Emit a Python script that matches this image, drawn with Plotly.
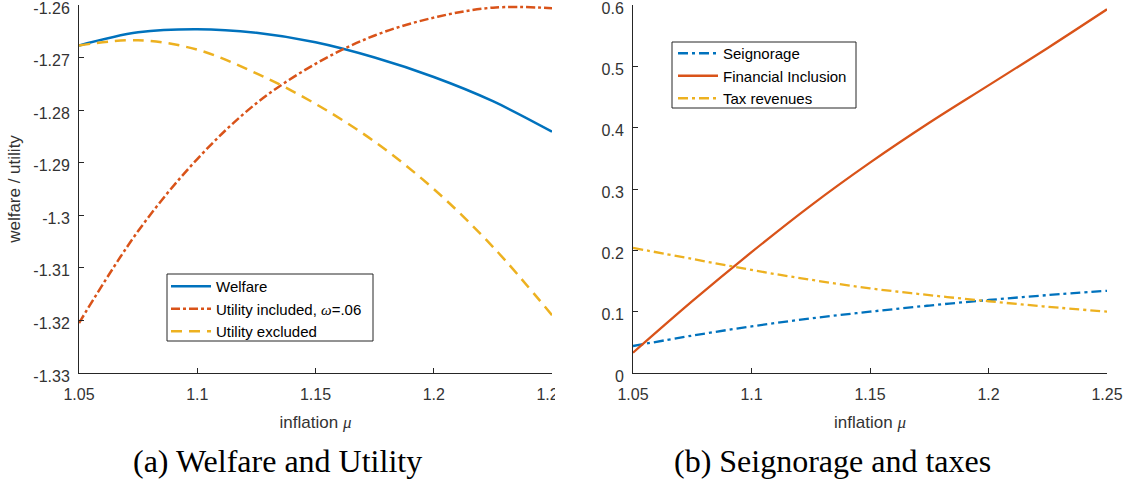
import plotly.graph_objects as go

# ---------------- data ----------------
mu = [1.05, 1.075, 1.1, 1.125, 1.15, 1.175, 1.2, 1.225, 1.25]

welfare = [-1.2677, -1.2652, -1.2646, -1.2653, -1.2671, -1.2700, -1.2737, -1.2783, -1.2841]
utility_included = [-1.3205, -1.3030, -1.2893, -1.2787, -1.2712, -1.2658, -1.2624, -1.2605, -1.2606]
utility_excluded = [-1.2677, -1.2667, -1.2685, -1.2730, -1.2788, -1.2860, -1.2950, -1.3060, -1.3190]

seignorage = [0.044, 0.061, 0.076, 0.089, 0.100, 0.110, 0.119, 0.127, 0.134]
financial_inclusion = [0.033, 0.117, 0.197, 0.273, 0.343, 0.408, 0.469, 0.530, 0.593]
tax_revenues = [0.204, 0.186, 0.168, 0.152, 0.138, 0.127, 0.117, 0.108, 0.100]

x_tickvals = [1.05, 1.1, 1.15, 1.2, 1.25]
x_ticktext = ["1.05", "1.1", "1.15", "1.2", "1.25"]
yl_tickvals = [-1.33, -1.32, -1.31, -1.30, -1.29, -1.28, -1.27, -1.26]
yl_ticktext = ["-1.33", "-1.32", "-1.31", "-1.3", "-1.29", "-1.28", "-1.27", "-1.26"]
yr_tickvals = [0, 0.1, 0.2, 0.3, 0.4, 0.5, 0.6]
yr_ticktext = ["0", "0.1", "0.2", "0.3", "0.4", "0.5", "0.6"]

# ---------------- style ----------------
W, H = 1136, 481
BLUE, ORANGE, YELLOW = "#0072BD", "#D95319", "#EDB120"
AX = "#262626"
SANS = "Liberation Sans"
SERIF = "Liberation Serif"

def px_x(p):
    return p / W

def px_y(p):
    return 1 - p / H

fig = go.Figure()

fig.add_trace(go.Scatter(x=mu, y=welfare, name="Welfare", mode="lines",
                         line=dict(color=BLUE, width=2.5, shape="spline"),
                         xaxis="x", yaxis="y", legend="legend"))
fig.add_trace(go.Scatter(x=mu, y=utility_included,
                         name="Utility included, <span style='font-family:Liberation Serif'><i>ω</i></span>=.06",
                         mode="lines",
                         line=dict(color=ORANGE, width=2.5, shape="spline", dash="9px,3px,3px,3px"),
                         xaxis="x", yaxis="y", legend="legend"))
fig.add_trace(go.Scatter(x=mu, y=utility_excluded, name="Utility excluded", mode="lines",
                         line=dict(color=YELLOW, width=2.5, shape="spline", dash="11px,7px"),
                         xaxis="x", yaxis="y", legend="legend"))

fig.add_trace(go.Scatter(x=mu, y=seignorage, name="Seignorage", mode="lines",
                         line=dict(color=BLUE, width=2.3, shape="spline", dash="10px,4px,3px,4px"),
                         xaxis="x2", yaxis="y2", legend="legend2"))
fig.add_trace(go.Scatter(x=mu, y=financial_inclusion, name="Financial Inclusion", mode="lines",
                         line=dict(color=ORANGE, width=2.3, shape="spline"),
                         xaxis="x2", yaxis="y2", legend="legend2"))
fig.add_trace(go.Scatter(x=mu, y=tax_revenues, name="Tax revenues", mode="lines",
                         line=dict(color=YELLOW, width=2.3, shape="spline", dash="10px,4px,3px,4px"),
                         xaxis="x2", yaxis="y2", legend="legend2"))

axis_common = dict(showline=True, linecolor=AX, linewidth=1, ticks="inside", ticklen=5,
                   tickcolor=AX, tickwidth=1, showgrid=False, zeroline=False, mirror=False,
                   ticklabeloverflow="allow", automargin=False,
                   tickfont=dict(family=SANS, size=16, color="#333333"))

title_font = dict(family=SANS, size=17, color="#333333")
xtitle = "inflation <span style='font-family:Liberation Serif'><i>μ</i></span>"

yd = [px_y(373), px_y(5)]

legend_common = dict(xanchor="left", yanchor="top", bgcolor="rgba(0,0,0,0)",
                     borderwidth=0, font=dict(family=SANS, size=15, color="black"),
                     itemwidth=40, tracegroupgap=0)

fig.update_layout(
    width=W, height=H,
    margin=dict(l=0, r=0, t=0, b=0, autoexpand=False),
    paper_bgcolor="white", plot_bgcolor="white",
    showlegend=True,
    xaxis=dict(axis_common, domain=[px_x(79), px_x(552)], range=[1.05, 1.25],
               tickmode="array", tickvals=x_tickvals, ticktext=x_ticktext,
               ticklabelstandoff=7,
               title=dict(text=xtitle, font=title_font, standoff=13), anchor="y"),
    yaxis=dict(axis_common, domain=yd, range=[-1.33, -1.26],
               tickmode="array", tickvals=yl_tickvals, ticktext=yl_ticktext,
               ticklabelstandoff=5, ticklabelshift=3,
               title=dict(text="welfare / utility", font=title_font, standoff=8), anchor="x"),
    xaxis2=dict(axis_common, domain=[px_x(633), px_x(1107)], range=[1.05, 1.25],
                tickmode="array", tickvals=x_tickvals, ticktext=x_ticktext,
                ticklabelstandoff=7,
                title=dict(text=xtitle, font=title_font, standoff=13), anchor="y2"),
    yaxis2=dict(axis_common, domain=yd, range=[0, 0.6],
                tickmode="array", tickvals=yr_tickvals, ticktext=yr_ticktext,
                ticklabelstandoff=5, ticklabelshift=3, anchor="x2"),
    legend=dict(legend_common, x=px_x(166), y=px_y(270)),
    legend2=dict(legend_common, x=px_x(673), y=px_y(37)),
    annotations=[
        dict(text="(a) Welfare and Utility", xref="paper", yref="paper",
             x=px_x(277), y=px_y(461), xanchor="center", yanchor="middle",
             showarrow=False, font=dict(family=SERIF, size=32, color="black")),
        dict(text="(b) Seignorage and taxes", xref="paper", yref="paper",
             x=px_x(832), y=px_y(461), xanchor="center", yanchor="middle",
             showarrow=False, font=dict(family=SERIF, size=32, color="black")),
    ],
    shapes=[
        # the left panel is cropped at its right edge in the original figure
        dict(type="rect", xref="paper", yref="paper", layer="above",
             x0=px_x(555), x1=px_x(610), y0=px_y(405), y1=px_y(378),
             fillcolor="white", line=dict(width=0)),
        # legend boxes
        dict(type="rect", xref="paper", yref="paper", layer="above",
             x0=px_x(167), x1=px_x(373), y0=px_y(341), y1=px_y(274),
             fillcolor="white", line=dict(color=AX, width=1)),
        dict(type="rect", xref="paper", yref="paper", layer="above",
             x0=px_x(672), x1=px_x(856), y0=px_y(108), y1=px_y(42),
             fillcolor="white", line=dict(color=AX, width=1)),
    ],
)

fig.write_html("out.html")
